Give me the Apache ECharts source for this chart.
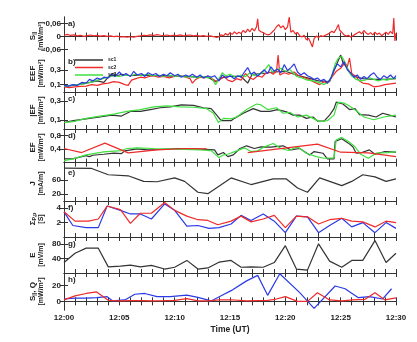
<!DOCTYPE html>
<html><head><meta charset="utf-8">
<script src="https://cdn.jsdelivr.net/npm/echarts@6/dist/echarts.min.js"></script>
<style>html,body{margin:0;padding:0;background:#fff}#c{width:417px;height:342px}</style>
</head><body><div id="c"></div>
<script>
// ---- data (time in minutes after 12:00) ----
const timeLabelMinutes = [0,5,10,15,20,25,30];
const panelLetters = ['a)','b)','c)','d)','e)','f)','g)','h)'];
const legendNames = ['sc1','sc2','sc3'];

const aSpar = [[0,0.006],[0.3,0.010],[0.6,0.005],[0.9,0.008],[1.2,0.003],[1.5,0.006],[1.8,0.001],[2.1,0.004],[2.4,0.007],[2.7,0.003],[3.0,0.005],[3.3,0.002],[3.6,0.004],[3.9,0.001],[4.2,0.003],[4.5,0.000],[4.8,0.002],[5.1,-0.002],[5.4,0.000],[5.7,-0.003],[6.0,-0.001],[6.3,-0.003],[6.6,0.001],[6.9,0.003],[7.2,0.006],[7.5,0.004],[7.8,0.008],[8.1,0.005],[8.4,0.009],[8.7,0.006],[9.0,0.004],[9.3,0.007],[9.6,0.003],[9.9,0.006],[10.2,0.004],[10.5,0.008],[10.8,0.003],[11.1,0.005],[11.4,0.007],[11.7,0.003],[12.0,0.005],[12.3,0.002],[12.6,0.004],[12.9,0.001],[13.2,0.003],[13.5,0.000],[13.8,-0.004],[14.0,-0.001],[14.2,0.008],[14.4,0.003],[14.6,0.014],[14.8,0.006],[15.0,0.018],[15.2,0.010],[15.4,0.022],[15.6,0.012],[15.8,0.020],[16.0,0.014],[16.2,0.028],[16.4,0.018],[16.6,0.034],[16.8,0.022],[17.0,0.038],[17.2,0.026],[17.4,0.045],[17.5,0.082],[17.6,0.030],[17.8,0.022],[18.0,0.018],[18.2,0.012],[18.4,0.008],[18.6,0.010],[18.8,0.020],[19.0,0.030],[19.2,0.045],[19.4,0.055],[19.6,0.040],[19.8,0.050],[20.0,0.032],[20.2,0.045],[20.35,0.090],[20.5,0.020],[20.7,0.028],[20.9,0.012],[21.1,0.018],[21.3,0.004],[21.5,-0.002],[21.7,0.006],[21.9,-0.015],[22.1,-0.008],[22.3,-0.030],[22.45,-0.048],[22.6,-0.010],[22.8,0.002],[23.0,-0.004],[23.2,0.004],[23.4,0.000],[23.6,0.006],[23.8,0.010],[24.0,0.016],[24.2,0.024],[24.4,0.018],[24.6,0.035],[24.8,0.055],[24.9,0.030],[25.1,0.020],[25.3,0.008],[25.5,0.002],[25.7,0.006],[25.9,-0.002],[26.1,0.004],[26.3,0.010],[26.5,0.016],[26.7,0.022],[26.9,0.012],[27.1,0.028],[27.3,0.016],[27.5,0.010],[27.7,0.018],[27.9,0.008],[28.1,0.020],[28.3,0.010],[28.5,0.016],[28.7,0.004],[28.9,0.012],[29.1,0.020],[29.3,0.010],[29.5,0.024],[29.7,0.012],[29.8,0.085],[29.9,-0.020],[30.0,0.015]];

const bBlack = [[0,0.08],[1.0,0.09],[2.0,0.12],[3.0,0.15],[3.6,0.13],[4.0,0.20],[4.4,0.25],[4.8,0.22],[5.2,0.24],[6.0,0.22],[7.0,0.23],[8.0,0.22],[9.0,0.22],[10.0,0.21],[11.0,0.21],[12.0,0.20],[13.0,0.20],[13.7,0.14],[14.2,0.19],[15.0,0.21],[16.0,0.21],[16.6,0.12],[17.0,0.24],[18.0,0.25],[19.0,0.27],[20.0,0.28],[21.0,0.23],[22.0,0.19],[23.0,0.15],[24.0,0.14],[24.6,0.36],[25.0,0.50],[25.2,0.40],[25.6,0.32],[26.0,0.22],[27.0,0.18],[28.0,0.17],[29.0,0.17],[30.0,0.18]];
const bRed = [[0,0.07],[0.5,0.06],[1.0,0.07],[1.5,0.075],[2.0,0.08],[2.5,0.10],[3.0,0.09],[3.5,0.11],[4.0,0.12],[4.5,0.14],[5.0,0.13],[5.5,0.10],[5.8,0.09],[6.1,0.16],[6.5,0.18],[6.9,0.20],[7.3,0.19],[7.7,0.21],[8.1,0.22],[8.5,0.20],[9.0,0.21],[9.5,0.19],[10.0,0.21],[10.5,0.22],[11.0,0.20],[11.4,0.18],[11.6,0.12],[11.9,0.17],[12.3,0.20],[12.7,0.19],[13.0,0.21],[13.4,0.18],[13.8,0.14],[14.2,0.18],[14.5,0.21],[14.8,0.16],[15.2,0.14],[15.6,0.18],[16.0,0.16],[16.4,0.25],[16.7,0.20],[17.1,0.17],[17.5,0.22],[17.9,0.20],[18.2,0.25],[18.6,0.27],[18.9,0.24],[19.2,0.28],[19.35,0.50],[19.5,0.23],[19.9,0.26],[20.3,0.24],[20.8,0.27],[21.2,0.22],[21.6,0.20],[22.0,0.18],[22.4,0.15],[22.8,0.12],[23.1,0.10],[23.5,0.14],[23.8,0.12],[24.2,0.20],[24.6,0.28],[25.0,0.32],[25.4,0.40],[25.6,0.34],[25.8,0.46],[26.0,0.25],[26.3,0.22],[26.7,0.15],[27.0,0.12],[27.5,0.11],[28.0,0.07],[28.5,0.08],[29.0,0.10],[29.5,0.11],[30.0,0.12]];
const bGreen = [[0,0.08],[0.6,0.09],[1.2,0.10],[1.8,0.11],[2.4,0.13],[3.0,0.16],[3.5,0.18],[4.0,0.20],[4.5,0.22],[5.0,0.21],[5.5,0.23],[6.0,0.22],[6.5,0.24],[7.0,0.22],[7.5,0.24],[8.0,0.22],[8.5,0.23],[9.0,0.21],[9.5,0.23],[10.0,0.21],[10.5,0.22],[11.0,0.20],[11.5,0.21],[12.0,0.19],[12.5,0.21],[13.0,0.19],[13.3,0.20],[13.7,0.10],[14.0,0.18],[14.3,0.26],[14.6,0.22],[15.0,0.24],[15.5,0.20],[16.0,0.23],[16.4,0.21],[16.8,0.26],[17.2,0.22],[17.6,0.24],[18.0,0.27],[18.5,0.37],[18.8,0.27],[19.2,0.30],[19.6,0.32],[20.0,0.28],[20.4,0.30],[20.7,0.26],[21.0,0.21],[21.5,0.19],[22.0,0.16],[22.5,0.15],[23.0,0.13],[23.5,0.10],[23.9,0.14],[24.2,0.22],[24.5,0.38],[24.8,0.46],[25.1,0.48],[25.4,0.40],[25.7,0.28],[26.0,0.22],[26.4,0.17],[26.8,0.15],[27.2,0.16],[27.6,0.19],[28.0,0.17],[28.4,0.15],[28.8,0.17],[29.2,0.16],[29.6,0.18],[30.0,0.19]];
const bBlue = [[0,0.09],[0.4,0.08],[0.8,0.10],[1.2,0.09],[1.6,0.13],[2.0,0.12],[2.3,0.17],[2.6,0.15],[3.0,0.19],[3.3,0.17],[3.6,0.20],[4.0,0.19],[4.3,0.24],[4.6,0.21],[5.0,0.27],[5.3,0.22],[5.6,0.25],[6.0,0.21],[6.3,0.28],[6.6,0.23],[7.0,0.25],[7.3,0.21],[7.6,0.26],[8.0,0.23],[8.3,0.25],[8.6,0.21],[9.0,0.24],[9.3,0.22],[9.6,0.26],[10.0,0.22],[10.3,0.24],[10.6,0.20],[11.0,0.23],[11.3,0.21],[11.6,0.24],[12.0,0.20],[12.3,0.23],[12.6,0.19],[13.0,0.22],[13.3,0.20],[13.6,0.22],[14.0,0.15],[14.3,0.23],[14.6,0.19],[15.0,0.22],[15.4,0.18],[15.7,0.22],[16.0,0.20],[16.3,0.27],[16.6,0.33],[16.9,0.24],[17.2,0.27],[17.5,0.21],[17.8,0.26],[18.1,0.30],[18.4,0.25],[18.7,0.34],[19.0,0.28],[19.3,0.31],[19.6,0.26],[19.9,0.37],[20.2,0.29],[20.5,0.33],[20.8,0.38],[21.1,0.27],[21.4,0.23],[21.7,0.26],[22.0,0.22],[22.3,0.20],[22.6,0.17],[22.9,0.19],[23.2,0.15],[23.5,0.17],[23.8,0.12],[24.1,0.18],[24.4,0.30],[24.7,0.38],[25.0,0.34],[25.3,0.41],[25.6,0.30],[25.9,0.26],[26.2,0.20],[26.5,0.23],[26.8,0.17],[27.1,0.21],[27.4,0.18],[27.7,0.23],[28.0,0.26],[28.3,0.20],[28.6,0.17],[28.9,0.22],[29.2,0.19],[29.5,0.23],[29.8,0.18],[30.0,0.22]];

const cBlack = [[0,0.07],[0.85,0.09],[2,0.11],[3.25,0.13],[4.3,0.15],[5.2,0.14],[5.5,0.16],[6,0.19],[6.9,0.19],[7.8,0.21],[8.7,0.23],[9.6,0.24],[10.6,0.26],[11.7,0.255],[12.6,0.23],[13.3,0.22],[13.8,0.15],[14.2,0.09],[15.1,0.09],[15.4,0.115],[16.2,0.17],[17.1,0.22],[17.8,0.19],[18.6,0.19],[19.3,0.21],[20.1,0.185],[20.7,0.15],[21.3,0.15],[21.9,0.115],[22.5,0.13],[22.9,0.086],[23.5,0.086],[24.0,0.15],[24.4,0.22],[24.6,0.29],[25.2,0.27],[25.8,0.21],[26.3,0.22],[26.7,0.155],[27.5,0.15],[28.2,0.13],[28.8,0.17],[29.4,0.15],[30,0.13]];
const cGreen = [[0,0.07],[0.85,0.08],[2,0.115],[3.25,0.14],[4.5,0.16],[5.7,0.19],[6.9,0.21],[8.1,0.24],[9.3,0.25],[10.5,0.24],[11.7,0.235],[12.9,0.22],[13.5,0.17],[13.95,0.07],[14.4,0.115],[15.1,0.11],[15.6,0.13],[16.5,0.21],[17.4,0.27],[17.8,0.26],[18.4,0.21],[19.2,0.23],[19.8,0.17],[20.4,0.18],[21.1,0.13],[21.9,0.15],[22.5,0.115],[23.1,0.08],[23.8,0.09],[24.4,0.15],[24.75,0.29],[25.3,0.28],[25.9,0.24],[26.5,0.19],[27.1,0.13],[28.0,0.10],[28.9,0.13],[30,0.15]];

const dBlack = [[0,0.11],[0.85,0.12],[2,0.21],[2.3,0.18],[2.6,0.22],[3.6,0.25],[4.5,0.28],[5.2,0.27],[5.5,0.35],[6.6,0.41],[7.5,0.38],[8.7,0.39],[10.2,0.42],[12.3,0.40],[13.6,0.38],[13.9,0.23],[14.4,0.30],[14.8,0.18],[15.3,0.23],[15.9,0.42],[16.5,0.50],[17.2,0.42],[17.8,0.47],[18.7,0.46],[19.8,0.50],[20.5,0.38],[21.3,0.42],[22.2,0.23],[22.6,0.33],[23.4,0.28],[23.8,0.11],[24.4,0.11],[24.5,0.63],[25.1,0.71],[25.7,0.58],[26.1,0.47],[26.4,0.28],[26.9,0.30],[27.6,0.38],[28.1,0.25],[29.0,0.33],[30,0.31]];
const dGreen = [[0,0.06],[0.85,0.11],[2,0.23],[3.6,0.32],[5.2,0.36],[5.7,0.42],[6.6,0.44],[8.1,0.42],[10.2,0.40],[12.3,0.38],[13.3,0.36],[14.0,0.15],[14.4,0.23],[14.8,0.25],[15.6,0.35],[16.3,0.44],[16.9,0.33],[17.5,0.35],[18.1,0.47],[18.9,0.57],[19.6,0.42],[20.3,0.36],[21.1,0.47],[21.9,0.28],[22.8,0.18],[23.5,0.13],[24.4,0.14],[24.6,0.68],[25.1,0.75],[25.7,0.63],[26.3,0.47],[26.8,0.25],[27.5,0.13],[28.2,0.28],[29.3,0.30],[30,0.33]];
const dRed = [[0,0.42],[1.6,0.30],[3.7,0.58],[5.8,0.29],[8.4,0.38],[11.1,0.42],[12.9,0.41],[14.5,null],[16.6,0.30],[22.9,0.55],[25.0,0.31],[27.5,0.29],[30,0.18]];

const eJ = [[0,94],[2.5,93],[4,75],[5.8,72],[7.2,56],[8.4,55],[10,66],[10.9,56],[12.1,25],[13,21],[15.1,66],[16.9,47],[18.9,63],[20.1,63],[21.1,37],[22,25],[23.1,66],[25.1,44],[26,56],[27,75],[28.1,69],[29.1,56],[30,63]];

const fRed = [[0,3.5],[1,2.2],[2.2,2.2],[3.1,2.5],[3.9,4.3],[5.1,3.8],[6,1.9],[6.9,3.3],[7.9,3.3],[9.1,4.8],[10,3.7],[11.1,2.9],[12.1,2.4],[13,2.3],[13.9,1.7],[15.1,2.2],[16,2.9],[16.9,2.1],[18,2.5],[19,3.0],[20,1.3],[21,2.9],[22,2.8],[23,1.8],[24,2.4],[25.1,2.6],[26,2.2],[27,2.1],[28.1,1.4],[29.1,2.2],[30,2.0]];
const fBlue = [[0,3.5],[0.8,1.6],[2,1.3],[3.1,1.3],[3.9,4.3],[5.1,3.7],[6,3.2],[6.9,3.2],[7.9,2.5],[9.1,4.6],[10,3.7],[11.1,1.5],[12.1,1.6],[13.1,1.2],[14,1.3],[15.1,1.8],[16,3.0],[16.9,2.3],[18,3.2],[19,2.2],[20,0.6],[21,2.9],[22,2.8],[23,0.6],[24,1.6],[25.1,2.6],[26,1.4],[27,2.0],[28.1,0.6],[29.1,2.0],[30,1.2]];

const gE = [[0,29],[1,55],[2,69],[3.1,69],[4,17],[5.1,19],[6,22],[6.9,17],[7.9,21],[9.1,11],[10,16],[11.1,35],[12.1,11],[13,14],[14,30],[15.1,35],[16,16],[16.9,17],[18,16],[19,29],[20,76],[21,11],[22,8],[23,81],[24,33],[25.1,16],[26,35],[27,35],[28.1,90],[29.1,29],[30,55]];

const hRed = [[0,1.8],[1,7],[2,10],[2.95,12],[4,1.3],[5.1,0.5],[6,0.8],[7,0.8],[8,0.5],[9,0.8],[10,1.3],[11.1,3.4],[12.1,0.5],[13,0.5],[14,1.8],[15.1,2],[16.5,0.5],[18.4,1.3],[19.1,2.6],[20,6],[21.1,0],[22,0],[22.9,11],[24,1.8],[25.1,0.5],[26.1,1.8],[27.2,2.6],[28.1,11],[29,1.8],[30,4.5]];
const hBlue = [[0,3],[1,4],[2,4],[2.95,4.8],[3.9,6],[4.4,0.5],[5.5,1.8],[6.4,9],[7.3,10],[8.4,6],[9.6,6],[11.1,8],[12.1,5],[13.3,0.5],[14.2,7],[15.1,13.6],[16.5,26],[17.5,33],[18.4,7.6],[19.5,35],[21.3,11],[22.6,-9],[24.5,19.5],[25.4,16],[26.6,4.7],[27.6,6],[28.8,3],[29.6,16]];

// y-axis ranges and labelled ticks per panel
const yRanges = [[-0.085,0.09],[0,0.5],[0,0.4],[-0.1,1.0],[0,100],[0,5],[0,100],[-11,36]];
const yTicks = [[-0.06,0,0.06],[0.1,0.3],[0.1,0.3],[0.4,0.8],[20,60],[2,4],[40,80],[0,20]];

// ---- layout ----
const FONT = 'Arial, "Liberation Sans", Helvetica, sans-serif';
const gridTops = [17,55,92,129,166,201,237,273];
const gridHeights = [38,37,37,37,35,36,36,37];
const yNames = [
  '{n|S}{s|||}\n{u|[mW/m²]}',
  '{n|EEF}\n{u|[mW/m²]}',
  '{n||EF}\n{u|[mW/m²]}',
  '{n|EF}\n{u|[mW/m²]}',
  '{n|J}\n{u|[mA/m]}',
  '{n|Σ}{s|P,p}\n{u|[S]}',
  '{n|E}\n{u|[mV/m]}',
  '{n|S}{s|||}{n|, Q}\n{u|[mW/m²]}'
];
const RED='#ee2a2a', BLUE='#2a3ae6', GREEN='#3ee03e', BLACK='#333333';
const AX='#333';

const grids=[], xAxes=[], yAxes=[];
for (let i=0;i<8;i++){
  grids.push({left:64, width:332, top:gridTops[i], height:gridHeights[i], show:false});
  const last = i===7;
  const xBase = {type:'value', gridIndex:i, min:0, max:30, interval:1,
    axisLine:{show:true, lineStyle:{color:AX,width:1}},
    axisTick:{show:true, inside:true, length:4, lineStyle:{color:AX,width:1}},
    splitLine:{show:false}};
  xAxes.push(Object.assign({}, xBase, {position:'bottom',
    axisLabel:{show:last, margin:4, fontSize:8, fontWeight:'bold', color:'#222', fontFamily:FONT,
      formatter:v=> timeLabelMinutes.indexOf(v)>=0 ? '12:'+String(v).padStart(2,'0') : ''},
    name: last ? 'Time (UT)' : '', nameLocation:'middle', nameGap:15,
    nameTextStyle:{fontSize:8.5, fontWeight:'bold', color:'#222', fontFamily:FONT}}));
  xAxes.push(Object.assign({}, xBase, {position:'top', axisLabel:{show:false}}));
  const fmt = v => (v<0?'–':'') + String(Math.abs(v)).replace('.',',');
  yAxes.push({type:'value', gridIndex:i, position:'left', min:yRanges[i][0], max:yRanges[i][1],
    axisLine:{show:true, lineStyle:{color:AX,width:1}},
    axisTick:{show:true, inside:true, length:4, customValues:yTicks[i], lineStyle:{color:AX}},
    axisLabel:{show:true, customValues:yTicks[i], formatter:fmt, margin:3, fontSize:8, fontWeight:'bold', color:'#222', fontFamily:FONT},
    splitLine:{show:false},
    name:yNames[i], nameLocation:'middle', nameRotate:90, nameGap:18, nameMoveOverlap:false,
    nameTextStyle:{fontFamily:FONT, color:'#222', lineHeight:9,
      rich:{n:{fontSize:8,fontWeight:'bold',fontFamily:FONT,color:'#222'},
            s:{fontSize:5.5,fontWeight:'bold',fontFamily:FONT,color:'#222',verticalAlign:'bottom'},
            u:{fontSize:7,fontWeight:'bold',fontFamily:FONT,color:'#222'}}}});
  yAxes.push({type:'value', gridIndex:i, position:'right', min:yRanges[i][0], max:yRanges[i][1],
    axisLine:{show:true, lineStyle:{color:AX,width:1}},
    axisTick:{show:true, inside:true, length:4, customValues:yTicks[i], lineStyle:{color:AX}},
    axisLabel:{show:false}, splitLine:{show:false}});
}

function line(name, data, panel, color){
  return {name:name, type:'line', data:data, xAxisIndex:2*panel, yAxisIndex:2*panel,
    showSymbol:false, symbol:'none', connectNulls:false, animation:false,
    lineStyle:{color:color, width:1.2}, itemStyle:{color:color}};
}
const series = [
  line('sc2', aSpar, 0, RED),
  line('sc1', bBlack, 1, BLACK), line('sc2', bRed, 1, RED), line('sc3', bGreen, 1, GREEN), line('sc4', bBlue, 1, BLUE),
  line('sc1', cBlack, 2, BLACK), line('sc3', cGreen, 2, GREEN),
  line('sc1', dBlack, 3, BLACK), line('sc3', dGreen, 3, GREEN), line('model', dRed, 3, RED),
  line('J', eJ, 4, BLACK),
  line('ΣP', fBlue, 5, BLUE), line('ΣP2', fRed, 5, RED),
  line('E', gE, 6, BLACK),
  line('Q', hBlue, 7, BLUE), line('S', hRed, 7, RED)
];

const graphics = panelLetters.map((t,i)=>({type:'text', left:68, top:gridTops[i]+3,
  style:{text:t, font:'bold 8px '+FONT, fill:'#222'}}));

const chart = echarts.init(document.getElementById('c'), null, {renderer:'canvas'});
chart.setOption({
  backgroundColor:'#fff', animation:false,
  grid:grids, xAxis:xAxes, yAxis:yAxes, series:series, graphic:graphics,
  legend:{data:legendNames, left:75, top:57, orient:'vertical', icon:'rect', itemWidth:28, itemHeight:1.5,
    itemGap:1.5, padding:0, selectedMode:false,
    textStyle:{fontSize:5, fontWeight:'bold', color:'#222', fontFamily:FONT, lineHeight:6}}
});
</script></body></html>
